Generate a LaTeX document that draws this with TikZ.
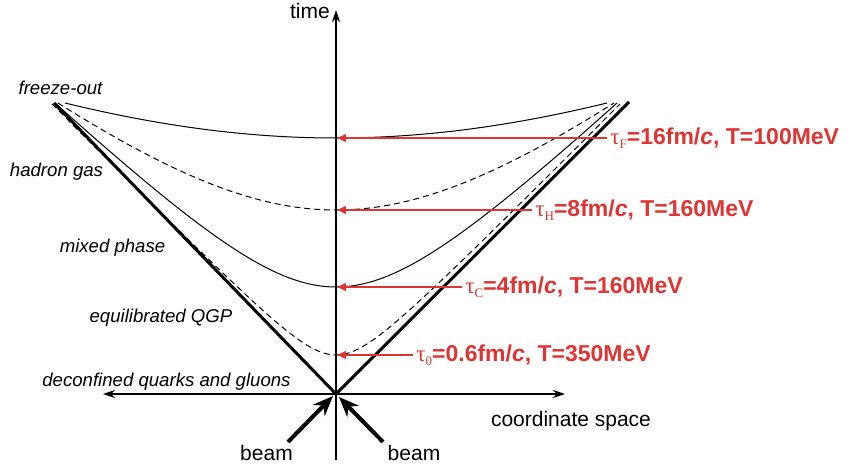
\documentclass[tikz,border=0pt]{standalone}
\usepackage{fontspec}
\setmainfont{Liberation Sans}
\newfontfamily\taufont{Liberation Serif}
\usetikzlibrary{arrows.meta}
\definecolor{tauRed}{RGB}{222,52,52}
\newcommand{\tauof}[1]{{\taufont\mdseries τ\raisebox{-0.4ex}{\fontsize{6.5}{7}\selectfont #1}}}
\begin{document}
\begin{tikzpicture}[x=5pt,y=5pt,
  phase/.style={font=\fontsize{9.3}{11}\selectfont\itshape},
  axislbl/.style={font=\fontsize{10.5}{12}\selectfont},
  taulbl/.style={font=\fontsize{11.5}{13}\selectfont\bfseries,text=tauRed,anchor=west,inner sep=1.5pt},
  tauarrow/.style={tauRed,line width=1pt,-{Latex[length=5pt,width=4.5pt]}},
  beamarrow/.style={line width=2pt,-{Stealth[length=10pt,width=8pt]}},
  isochrone/.style={line width=0.5pt},
  hyper/.style={isochrone,dash pattern=on 3pt off 2pt}]
  \useasboundingbox (-33.6,-7.2) rectangle (51.6,39.4);
  \coordinate (O) at (0,0);
  % axes
  \coordinate (tBot) at (0,-6.6);
  \coordinate (tTop) at (0,38.4);
  \coordinate (xL) at (-23.3,0);
  \coordinate (xR) at (22.9,0);
  \draw[line width=1pt,-{Stealth[length=6pt,width=4pt]}] (tBot) -- (tTop);
  \draw[line width=0.8pt,{Stealth[length=6pt,width=4pt]}-{Stealth[length=6pt,width=4pt]}] (xL) -- (xR);
  \node[axislbl] (time) at (-2.6,38.3) {time};
  \node[axislbl] (space) at (23.5,-2.7) {coordinate space};
  % light cone
  \coordinate (coneL) at (-28.2,29.1);
  \coordinate (coneR) at (29.3,29.2);
  \draw[line width=1.5pt] (coneL) -- (O) -- (coneR);
  % proper time curves
  \draw[isochrone] plot[domain=-27.1:27.1,samples=80,smooth] (\x,{sqrt(25.6^2+0.2607*(\x)^2)});
  \draw[hyper] plot[domain=-27.8:27.8,samples=80,smooth] (\x,{sqrt(18.4^2+0.6576*(\x)^2)});
  \draw[isochrone] plot[domain=-28.1:28.1,samples=80,smooth] (\x,{sqrt(10.7^2+0.9274*(\x)^2)});
  \draw[hyper] plot[domain=-28.4:28.4,samples=80,smooth] (\x,{sqrt(3.9^2+1.0238*(\x)^2)});
  % phases
  \node[phase] (fo) at (-27.55,30.6) {freeze-out};
  \node[phase] (hg) at (-27.95,22.2) {hadron gas};
  \node[phase] (mp) at (-22.35,14.6) {mixed phase};
  \node[phase] (qgp) at (-17.5,7.6) {equilibrated QGP};
  \node[phase] (dq) at (-16.95,1.2) {deconfined quarks and gluons};
  % proper times
  \coordinate (sF) at (27.1,25.6);
  \coordinate (sH) at (19.6,18.4);
  \coordinate (sC) at (12.6,10.7);
  \coordinate (s0) at (7.7,3.9);
  \coordinate (aF) at (0,25.6);
  \coordinate (aH) at (0,18.4);
  \coordinate (aC) at (0,10.7);
  \coordinate (a0) at (0,3.9);
  \node[taulbl] (tF) at (sF) {\tauof{F}=16fm/\textit{c}, T=100MeV};
  \node[taulbl] (tH) at (sH) {\tauof{H}=8fm/\textit{c}, T=160MeV};
  \node[taulbl] (tC) at (sC) {\tauof{C}=4fm/\textit{c}, T=160MeV};
  \node[taulbl] (t0) at (s0) {\tauof{0}=0.6fm/\textit{c}, T=350MeV};
  \draw[tauarrow] (sF) -- (aF);
  \draw[tauarrow] (sH) -- (aH);
  \draw[tauarrow] (sC) -- (aC);
  \draw[tauarrow] (s0) -- (a0);
  % beams
  \coordinate (bL) at (-4.8,-4.8);
  \coordinate (bR) at (4.7,-4.8);
  \coordinate (hitL) at (-0.3,-0.2);
  \coordinate (hitR) at (0.3,-0.3);
  \draw[beamarrow] (bL) -- (hitL);
  \draw[beamarrow] (bR) -- (hitR);
  \node[axislbl] (beamL) at (-6.95,-5.9) {beam};
  \node[axislbl] (beamR) at (7.8,-5.9) {beam};
\end{tikzpicture}
\end{document}
